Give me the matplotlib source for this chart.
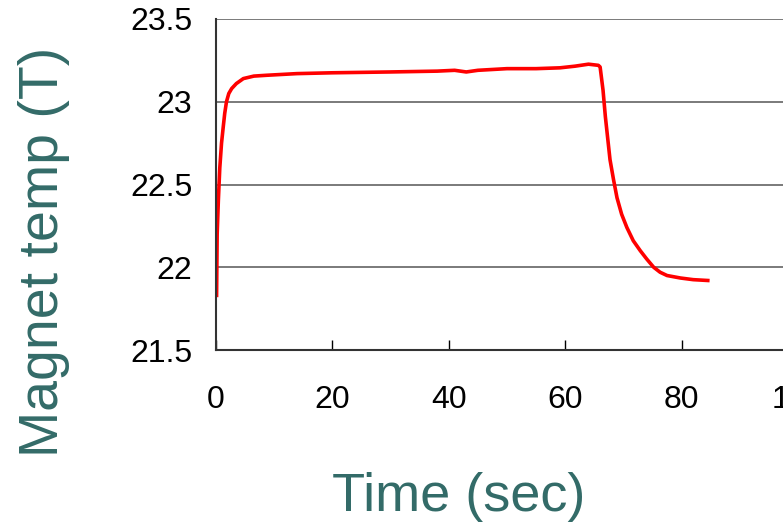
import matplotlib

matplotlib.use("Agg")
import matplotlib.pyplot as plt
from matplotlib import font_manager

# values
time_sec = [0.1, 0.2, 0.4, 0.65, 0.95, 1.25, 1.5, 1.8, 2.2, 2.7, 3.5, 4.7, 6.5, 8.7,
            13.9, 20, 29.9, 38, 41, 43, 45, 50, 55, 59.1, 61.7, 64, 65.7, 66.0, 66.5,
            66.9, 67.3, 67.7, 68.3, 68.9, 69.7, 70.6, 71.7, 72.9, 74.0, 75.2, 76.3,
            77.5, 79.8, 82.0, 84.5]
magnet_temp = [21.83, 22.2, 22.4, 22.6, 22.75, 22.85, 22.93, 23.0, 23.05, 23.08, 23.11,
               23.14, 23.155, 23.16, 23.17, 23.175, 23.18, 23.185, 23.19, 23.18, 23.19,
               23.2, 23.2, 23.205, 23.215, 23.227, 23.22, 23.21, 23.07, 22.91, 22.78,
               22.65, 22.53, 22.42, 22.32, 22.24, 22.16, 22.1, 22.05, 22.0, 21.97,
               21.95, 21.935, 21.925, 21.92]
x_ticks = [0, 20, 40, 60, 80, 100]
y_ticks = [21.5, 22, 22.5, 23, 23.5]

names = {f.name for f in font_manager.fontManager.ttflist}
tick_font = "Liberation Sans Narrow" if "Liberation Sans Narrow" in names else "Liberation Sans"
label_color = "#336b68"

W, H = 783, 527
fig = plt.figure(figsize=(W / 100, H / 100), dpi=100)
ax = fig.add_axes([216 / W, 1 - 350 / H, (798 - 216) / W, (350 - 19) / H])

ax.plot(time_sec, magnet_temp, color="#ff0000", linewidth=2.6)

ax.set_xlim(0, 100)
ax.set_ylim(21.5, 23.5)
ax.set_xticks(x_ticks)
ax.set_yticks(y_ticks)
ax.set_xticklabels([str(v) for v in x_ticks], fontname=tick_font, fontsize=23)
ax.set_yticklabels([f"{v:g}" for v in y_ticks], fontname=tick_font, fontsize=23)
ax.tick_params(axis="x", direction="in", length=7, width=1, pad=25, colors="black")
ax.tick_params(axis="y", length=0, pad=17, colors="black")

ax.grid(axis="y", color="#707070", linewidth=1.3)
ax.set_axisbelow(True)
ax.spines["top"].set_visible(False)
ax.spines["right"].set_visible(False)
for s in ("left", "bottom"):
    ax.spines[s].set_color("#333333")
    ax.spines[s].set_linewidth(1.5)

fig.text(44 / W, 1 - 252 / H, "Magnet temp (T)", rotation=90, ha="center", va="center",
         fontname="Liberation Sans", fontsize=40, color=label_color)
fig.text(459 / W, 1 - 497 / H, "Time (sec)", ha="center", va="center",
         fontname="Liberation Sans", fontsize=39, color=label_color)

fig.savefig("out.png", dpi=100)
plt.close(fig)
